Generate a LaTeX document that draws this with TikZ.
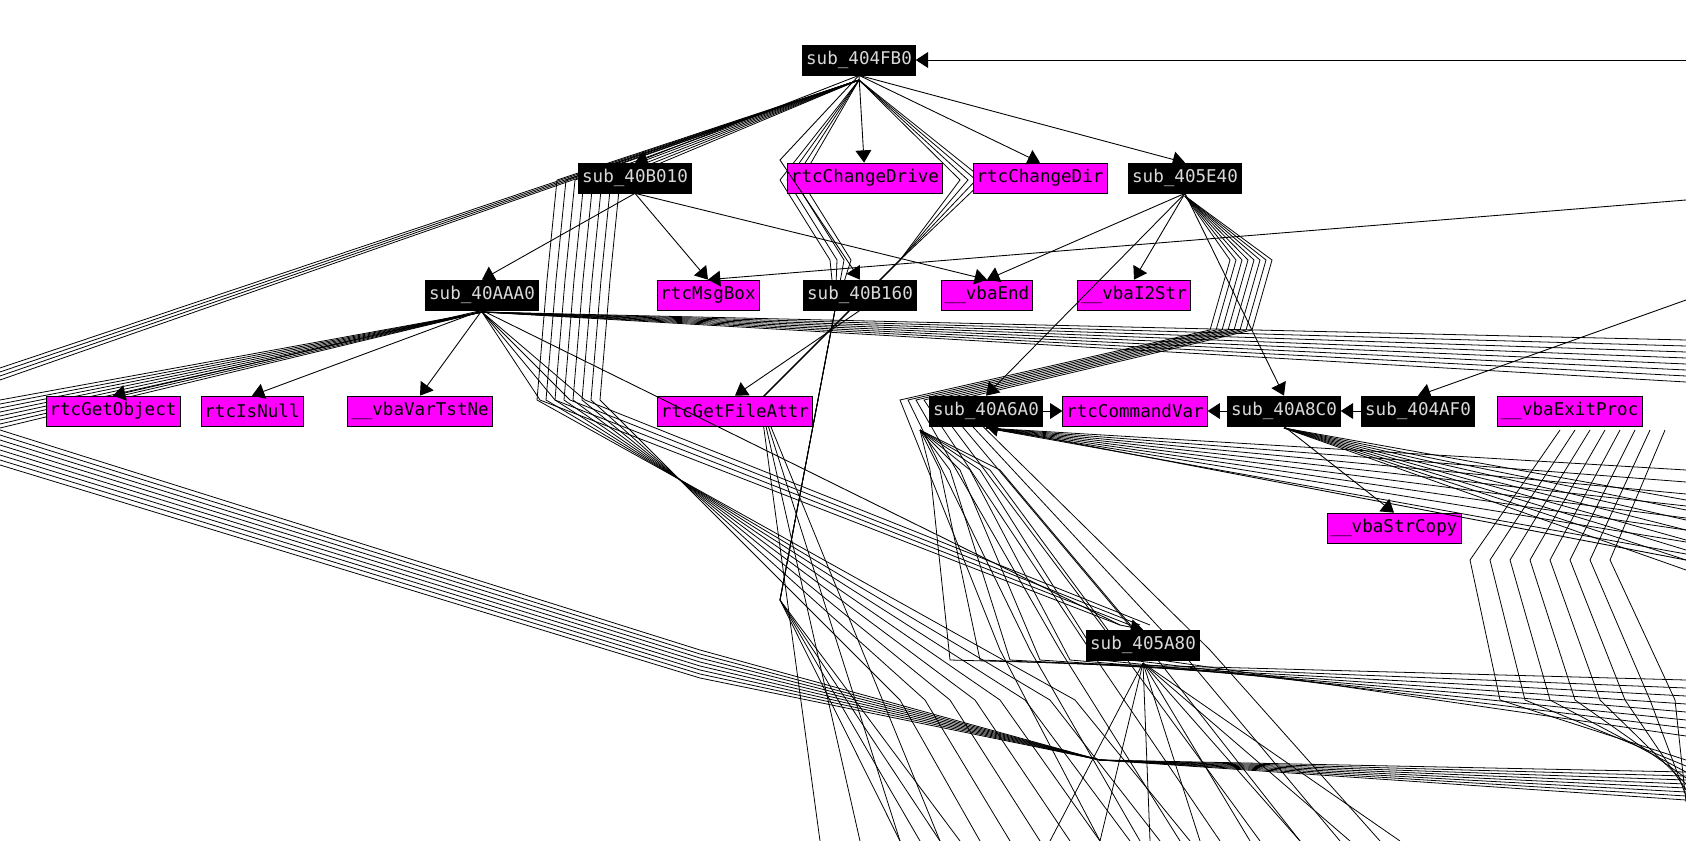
\documentclass[tikz,border=0pt]{standalone}
\usepackage{fontspec}
\setmainfont{DejaVu Sans Mono}
\usetikzlibrary{arrows.meta}
\definecolor{impfill}{RGB}{255,0,255}
\tikzset{
  fn/.style={draw=black, fill=black, text=white!85!black, inner sep=2pt, minimum height=0.6cm, font=\fontsize{10}{11}\selectfont},
  imp/.style={draw=black, fill=impfill, text=black, inner sep=2pt, minimum height=0.6cm, font=\fontsize{10}{11}\selectfont},
  call/.style={-{Triangle[width=9pt,length=7pt]}, line width=0.5pt},
  wire/.style={line width=0.45pt}
}
\begin{document}
\begin{tikzpicture}[x=0.02cm, y=-0.02cm]
\useasboundingbox (0,0) rectangle (1686,841);
\clip (0,0) rectangle (1686,841);

% bundles in the background
\foreach \i in {0,...,7} {
  \draw[wire] (859,80) -- (620-9*\i,180) -- (610-9*\i,280) -- (600-9*\i,400) -- (900+25*\i,700) -- (980+30*\i,841);
  \draw[wire] (482,312) -- (0,400+4*\i);
  \draw[wire] (0,430+5*\i) -- (700,650+4*\i) -- (1100,760) -- (1686,800-4*\i);
  \draw[wire] (1185,196) -- (1230+6*\i,260) -- (1210+6*\i,330) -- (900+8*\i,400) -- (1000+30*\i,650) -- (1100+40*\i,841);
  \draw[wire] (986,428) -- (1686,470+12*\i);
  \draw[wire] (1284,428) -- (1686,500+10*\i);
  \draw[wire] (482,312) -- (1686,340+6*\i);
  \draw[wire] (1143,663) -- (1050+50*\i,841);
  \draw[wire] (1560+15*\i,430) -- (1470+20*\i,560) -- (1500+25*\i,700) -- (1686,760+6*\i);
  \draw[wire] (920,430) -- (930+10*\i,470) -- (950+30*\i,660) -- (1686,680+8*\i);
}
\foreach \i in {0,...,3} {
  \draw[wire] (859,80) -- (0,380-4*\i);
  \draw[wire] (859,80) -- (780+7*\i,180) -- (830+7*\i,260) -- (835,310) -- (780,600) -- (900+20*\i,841);
  \draw[wire] (859,80) -- (960+8*\i,180) -- (900,260) -- (760,400) -- (820+40*\i,841);
  \draw[wire] (482,312) -- (540+15*\i,400) -- (1120+10*\i,625);
}

% nodes
\node[fn]  (f404FB0) at (859,60)  {sub\_404FB0};
\node[fn]  (f40B010) at (635,178) {sub\_40B010};
\node[imp] (ChDrive) at (865,178) {rtcChangeDrive};
\node[imp] (ChDir)   at (1040,178) {rtcChangeDir};
\node[fn]  (f405E40) at (1185,178) {sub\_405E40};
\node[fn]  (f40AAA0) at (482,295) {sub\_40AAA0};
\node[imp] (MsgBox)  at (708,295) {rtcMsgBox};
\node[fn]  (f40B160) at (860,295) {sub\_40B160};
\node[imp] (vbaEnd)  at (987,295) {\_\_vbaEnd};
\node[imp] (vbaI2S)  at (1134,295) {\_\_vbaI2Str};
\node[imp] (GetObj)  at (113,411) {rtcGetObject};
\node[imp] (IsNull)  at (252,411) {rtcIsNull};
\node[imp] (TstNe)   at (420,411) {\_\_vbaVarTstNe};
\node[imp] (FileAt)  at (735,411) {rtcGetFileAttr};
\node[fn]  (f40A6A0) at (986,411) {sub\_40A6A0};
\node[imp] (CmdVar)  at (1135,411) {rtcCommandVar};
\node[fn]  (f40A8C0) at (1284,411) {sub\_40A8C0};
\node[fn]  (f404AF0) at (1418,411) {sub\_404AF0};
\node[imp, anchor=west] (vbaExit) at (1497,411) {\_\_vbaExitProc};
\node[imp] (StrCopy) at (1394,528) {\_\_vbaStrCopy};
\node[fn]  (f405A80) at (1143,645) {sub\_405A80};
\coordinate (rightTop) at (1686,60);
\coordinate (rightIn) at (1686,200);

% calls
\draw[call] (rightTop) -- (f404FB0);
\draw[call] (f404FB0.south) -- (ChDrive);
\draw[call] (f404FB0.south) -- (ChDir.north);
\draw[call] (f404FB0.south) -- (f405E40.north);
\draw[call] (f404FB0.south) -- (f40B010.north);
\draw[call] (f404FB0.south) -- (780,160) -- (f40B160.north);
\draw[call] (f40B010.south) -- (f40AAA0.north);
\draw[call] (f40B010.south) -- (MsgBox.north);
\draw[call] (f40B010.south) -- (vbaEnd.north);
\draw[call] (f405E40.south) -- (vbaEnd.north);
\draw[call] (f405E40.south) -- (vbaI2S.north);
\draw[call] (f405E40.south) -- (f40A8C0.north);
\draw[call] (rightIn) -- (MsgBox.north);
\draw[call] (f40AAA0.south) -- (GetObj.north);
\draw[call] (f40AAA0.south) -- (IsNull.north);
\draw[call] (f40AAA0.south) -- (TstNe.north);
\draw[call] (f40B160.south) -- (FileAt.north);
\draw[call] (f405E40.south) -- (f40A6A0.north);
\draw[call] (f40A6A0) -- (CmdVar);
\draw[call] (f40A8C0) -- (CmdVar);
\draw[call] (f404AF0) -- (f40A8C0);
\draw[call] (1686,300) -- (f404AF0.north);
\draw[call] (f40A8C0.south) -- (StrCopy.north);
\draw[call] (f40AAA0.south) -- (1120,625) -- (f405A80.north);
\draw[call] (1686,560) -- (f40A6A0.south);
\end{tikzpicture}
\end{document}
